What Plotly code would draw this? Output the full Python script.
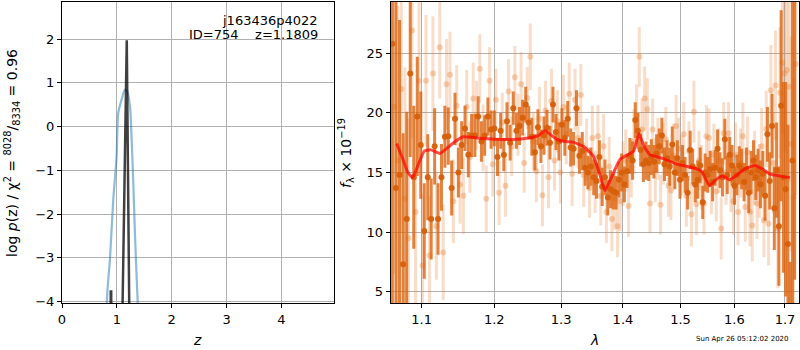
import numpy as np
import plotly.graph_objects as go

# ---------------- Left panel: redshift PDF ----------------
PZ_Z = [0.0, 0.880, 0.889, 0.897, 0.905, 1.080, 1.181, 1.240, 4.95]
PZ_LOG = [-6.0, -6.0, -3.77, -3.77, -6.0, -6.0, 1.97, -6.0, -6.0]

CHI_Z = [0.80, 0.826, 0.874, 0.935, 0.996, 1.026, 1.088, 1.148, 1.19, 1.24,
         1.27, 1.30, 1.33, 1.37, 1.40]
CHI_Y = [-4.8, -3.79, -3.04, -1.67, -0.68, 0.31, 0.62, 0.84, 0.80, 0.46,
         -0.30, -1.29, -2.43, -3.72, -4.5]

LEFT_XTICKS = [0, 1, 2, 3, 4]
LEFT_YTICKS = [-4, -3, -2, -1, 0, 1, 2]

# ---------------- Right panel: spectrum ----------------
LAM_DARK = np.round(1.062 + 0.0046 * np.arange(144), 4)
FLUX_DARK = [
    25.8, 13.7, 14.8, 7.3, 11.1, 23.3, 14.6, 19.7, 17.3, 10.1,
    14.6, 11.1, 17.2, 11.1, 14.6, 18.0, 18.05, 13.7, 19.5, 15.0,
    17.3, 18.7, 16.5, 18.1, 18.1, 19.7, 17.6, 18.1, 19.7, 18.6,
    18.7, 16.3, 18.5, 16.5, 19.3, 17.5, 20.4, 18.5, 18.9, 19.6,
    20.7, 19.2, 18.0, 16.7, 18.8, 17.2, 18.1, 18.75, 17.5, 20.7,
    18.4, 17.6, 19.0, 17.9, 19.5, 17.1, 17.0, 20.4, 16.4, 16.8,
    15.4, 15.0, 15.5, 14.6, 14.3, 16.3, 13.8, 14.6, 12.9, 13.6,
    13.4, 13.3, 14.4, 15.0, 14.0, 15.1, 16.4, 16.0, 19.4, 18.5,
    16.9, 15.7, 16.0, 15.8, 16.3, 15.9, 16.6, 17.2, 18.1, 15.7,
    16.2, 15.5, 17.35, 15.0, 16.2, 14.4, 15.8, 14.8, 13.3, 16.9,
    15.5, 14.0, 14.4, 15.6, 12.5, 15.0, 14.8, 15.3, 14.2, 15.4,
    17.0, 15.2, 14.6, 17.8, 14.8, 16.5, 15.6, 13.9, 14.8, 15.6,
    15.3, 14.2, 15.3, 13.3, 15.0, 16.0, 14.6, 15.2, 14.0, 14.9,
    13.05, 18.2, 14.3, 18.9, 12.0, 15.2, 10.5, 20.6, 14.6, 13.6,
    9.0, 2.5, 16.0, 31.0,
]
ERR_DARK = [
    22, 16, 13, 11, 9, 7, 6, 5, 4.5, 4,
    3.6, 3.4, 3.2, 3.0, 2.8, 2.6, 2.4, 2.3, 2.2, 2.1,
    2.0, 1.9, 1.9, 1.8, 1.8, 1.7, 1.7, 1.7, 1.6, 1.6,
    1.5, 1.6, 1.5, 1.4, 1.6, 1.5, 1.4, 1.5, 1.6, 1.5,
    1.5, 1.4, 1.6, 1.5, 1.5, 1.4, 1.6, 1.5, 1.4, 1.5,
    1.5, 1.6, 1.4, 1.5, 1.5, 1.6, 1.4, 1.5, 1.5, 1.6,
    1.5, 1.4, 1.6, 1.5, 1.5, 1.4, 1.6, 1.5, 1.5, 1.6,
    1.5, 1.4, 1.5, 1.6, 1.5, 1.4, 1.5, 1.6, 1.5, 1.5,
    1.4, 1.5, 1.6, 1.5, 1.5, 1.4, 1.6, 1.5, 1.5, 1.4,
    1.5, 1.6, 1.5, 1.4, 1.5, 1.6, 1.5, 1.5, 1.4, 1.6,
    1.5, 1.5, 1.6, 1.5, 1.4, 1.6, 1.5, 1.5, 1.6, 1.5,
    1.6, 1.5, 1.6, 1.7, 1.6, 1.5, 1.7, 1.6, 1.7, 1.6,
    1.7, 1.6, 1.8, 1.7, 1.8, 1.7, 1.9, 1.8, 2.0, 1.9,
    2.1, 2.3, 2.4, 2.7, 3.5, 4.0, 5.0, 8.0, 8.0, 9.0,
    10, 5, 25, 25,
]

LAM_LIGHT = np.round(1.0643 + 0.0046 * np.arange(144), 4)
FLUX_LIGHT = [
    20.5, 16.0, 22.0, 12.8, 9.5, 26.9, 11.7, 22.7, 7.2, 22.7,
    8.05, 23.3, 10.5, 25.5, 8.3, 22.4, 23.2, 12.6, 20.6, 14.0,
    13.05, 20.5, 16.3, 21.2, 19.8, 23.7, 17.9, 12.8, 22.7, 15.7,
    21.1, 13.3, 19.2, 13.9, 21.8, 17.2, 23.0, 19.0, 22.4, 15.8,
    21.25, 24.7, 17.6, 15.1, 19.5, 13.1, 20.2, 14.6, 21.0, 16.0,
    19.3, 15.0, 20.5, 18.2, 21.6, 14.9, 21.1, 17.9, 21.5, 14.8,
    16.9, 13.7, 17.9, 14.2, 18.05, 13.05, 17.2, 11.7, 15.5, 11.1,
    12.8, 10.5, 12.6, 14.9, 16.0, 12.2, 15.4, 17.6, 19.8, 24.7,
    18.6, 21.2, 20.3, 12.4, 18.6, 15.2, 17.0, 12.3, 16.6, 17.8,
    13.9, 13.5, 16.4, 18.9, 17.0, 15.6, 18.2, 13.05, 16.8, 11.5,
    20.1, 12.35, 16.0, 14.6, 12.4, 18.05, 17.9, 14.2, 16.5, 13.4,
    16.0, 10.3, 18.3, 15.0, 18.3, 14.4, 12.6, 16.5, 11.7, 15.8,
    18.05, 12.1, 16.7, 11.7, 10.55, 15.4, 12.4, 14.3, 17.2, 11.0,
    18.65, 10.7, 21.9, 15.8, 22.3, 10.3, 21.7, 24.2, 23.3, 23.6,
    22.2, 17.4, 12.9, 24.1,
]
ERR_LIGHT = [
    14, 13, 12, 11, 10, 9, 8, 7, 6, 5.5,
    5.0, 4.8, 4.5, 4.3, 4.0, 3.8, 3.6, 3.5, 3.4, 3.3,
    3.2, 3.1, 3.0, 3.0, 2.9, 2.9, 2.8, 2.8, 2.8, 2.7,
    2.6, 2.7, 2.5, 2.6, 2.7, 2.5, 2.6, 2.6, 2.7, 2.5,
    2.6, 2.8, 2.5, 2.6, 2.7, 2.6, 2.5, 2.6, 2.7, 2.5,
    2.6, 2.6, 2.7, 2.5, 2.6, 2.7, 2.6, 2.5, 2.6, 2.7,
    2.6, 2.5, 2.7, 2.6, 2.6, 2.5, 2.7, 2.6, 2.5, 2.7,
    2.6, 2.6, 2.5, 2.7, 2.6, 2.6, 2.5, 2.7, 2.6, 2.5,
    2.6, 2.7, 2.6, 2.5, 2.6, 2.7, 2.6, 2.5, 2.6, 2.7,
    2.6, 2.5, 2.7, 2.6, 2.6, 2.5, 2.7, 2.6, 2.5, 2.7,
    2.6, 2.6, 2.5, 2.7, 2.6, 2.6, 2.5, 2.7, 2.6, 2.5,
    2.7, 2.6, 2.6, 2.7, 2.6, 2.7, 2.8, 2.7, 2.8, 2.9,
    2.8, 2.9, 3.0, 2.9, 3.0, 3.1, 3.0, 3.1, 3.2, 3.1,
    3.2, 3.5, 3.8, 4.2, 4.6, 5.0, 5.5, 6.0, 6.5, 7.0,
    8.0, 9.0, 10.0, 11.0,
]

MODEL_LAM = [1.0675, 1.075, 1.082, 1.0882, 1.095, 1.1034, 1.112, 1.1242, 1.135,
             1.145, 1.156, 1.175, 1.2, 1.2278, 1.25, 1.265, 1.275, 1.2929, 1.305,
             1.319, 1.335, 1.351, 1.362, 1.370, 1.380, 1.395, 1.408, 1.418, 1.427,
             1.436, 1.446, 1.469, 1.493, 1.523, 1.538, 1.553, 1.565, 1.578, 1.591,
             1.605, 1.620, 1.640, 1.655, 1.670, 1.690, 1.710]
MODEL_FLUX = [17.44, 16.2, 15.0, 14.58, 15.6, 16.8, 16.9, 16.6, 17.1,
              17.6, 18.0, 17.9, 17.8, 17.78, 17.9, 18.1, 18.5, 17.8, 17.6,
              17.55, 17.2, 16.4, 14.8, 13.47, 14.5, 16.1, 16.5, 16.8, 18.25,
              17.2, 16.5, 16.17, 15.7, 15.4, 15.1, 13.9, 14.4, 14.7, 14.4,
              14.8, 15.3, 15.6, 15.3, 14.86, 14.7, 14.58]

RIGHT_XTICKS = [1.1, 1.2, 1.3, 1.4, 1.5, 1.6, 1.7]
RIGHT_YTICKS = [5, 10, 15, 20, 25]

FONT = "DejaVu Sans"
W, H = 800, 350


def px_x(p):
    return p / W


def px_y(p):
    return 1 - p / H


fig = go.Figure()

# Left panel traces
fig.add_trace(go.Scatter(x=CHI_Z, y=CHI_Y, mode="lines",
                         line=dict(color="rgba(31,119,180,0.5)", width=2.2, shape="spline", smoothing=0.8),
                         xaxis="x", yaxis="y", showlegend=False, hoverinfo="skip"))
fig.add_trace(go.Scatter(x=PZ_Z, y=PZ_LOG, mode="lines",
                         line=dict(color="rgba(0,0,0,0.75)", width=2.5),
                         xaxis="x", yaxis="y", showlegend=False, hoverinfo="skip"))

# Right panel traces
fig.add_trace(go.Scatter(x=LAM_LIGHT, y=FLUX_LIGHT, mode="markers",
                         marker=dict(color="rgba(230,120,40,0.33)", size=6, line=dict(width=0)),
                         error_y=dict(type="data", array=ERR_LIGHT, visible=True, width=0,
                                      thickness=3, color="rgba(230,120,40,0.25)"),
                         xaxis="x2", yaxis="y2", showlegend=False, hoverinfo="skip"))
fig.add_trace(go.Scatter(x=LAM_DARK, y=FLUX_DARK, mode="markers",
                         marker=dict(color="rgba(215,95,10,0.95)", size=6, line=dict(width=0)),
                         error_y=dict(type="data", array=ERR_DARK, visible=True, width=0,
                                      thickness=3, color="rgba(220,100,15,0.8)"),
                         xaxis="x2", yaxis="y2", showlegend=False, hoverinfo="skip"))
fig.add_trace(go.Scatter(x=MODEL_LAM, y=MODEL_FLUX, mode="lines",
                         line=dict(color="rgba(255,0,0,0.7)", width=3, shape="spline", smoothing=0.4),
                         xaxis="x2", yaxis="y2", showlegend=False, hoverinfo="skip"))

axis_common = dict(showline=True, linecolor="black", linewidth=1, mirror=True,
                   ticks="outside", ticklen=4, tickcolor="black", automargin=False,
                   showgrid=True, gridcolor="#b0b0b0", gridwidth=1, zeroline=False,
                   tickfont=dict(family=FONT, size=13, color="black"))

fig.update_layout(
    width=W, height=H, margin=dict(l=0, r=0, t=0, b=0, autoexpand=False),
    paper_bgcolor="white", plot_bgcolor="white",
    font=dict(family=FONT, size=13, color="black"),
    xaxis=dict(domain=[px_x(62), px_x(334)], range=[0, 4.96], tickvals=LEFT_XTICKS,
               anchor="y", **axis_common),
    yaxis=dict(domain=[px_y(303), px_y(2)], range=[-4.03, 2.845], tickvals=LEFT_YTICKS,
               anchor="x", **axis_common),
    xaxis2=dict(domain=[px_x(390.7), px_x(799.3)], type="log",
                range=[np.log10(1.0599), np.log10(1.7294)],
                tickvals=RIGHT_XTICKS, ticktext=[f"{v:.1f}" for v in RIGHT_XTICKS],
                anchor="y2", **axis_common),
    yaxis2=dict(domain=[px_y(303), px_y(2)], range=[4.06, 29.3], tickvals=RIGHT_YTICKS,
                anchor="x2", **axis_common),
)

ann = [
    dict(text="j163436p4022", x=px_x(320), y=px_y(20), xanchor="right", yanchor="middle",
         font=dict(size=13)),
    dict(text="ID=754    z=1.1809", x=px_x(320), y=px_y(35), xanchor="right", yanchor="middle",
         font=dict(size=13)),
    dict(text="<i>z</i>", x=px_x(197), y=px_y(340), xanchor="center", yanchor="middle",
         font=dict(size=14)),
    dict(text="<i>λ</i>", x=px_x(594), y=px_y(340), xanchor="center", yanchor="middle",
         font=dict(size=14)),
    dict(text="log <i>p</i>(z) / χ<sup>2</sup> = <sup>8028</sup>/<sub>8334</sub> = 0.96",
         x=px_x(12), y=px_y(153), textangle=-90, xanchor="center", yanchor="middle",
         font=dict(size=14)),
    dict(text="<i>f</i><sub>λ</sub> × 10<sup>−19</sup>",
         x=px_x(346), y=px_y(153), textangle=-90, xanchor="center", yanchor="middle",
         font=dict(size=14)),
    dict(text="Sun Apr 26 05:12:02 2020", x=px_x(742), y=px_y(339), xanchor="center",
         yanchor="middle", font=dict(size=7)),
]
for a in ann:
    a.update(xref="paper", yref="paper", showarrow=False)
fig.update_layout(annotations=ann)

fig.write_html(
    "out.html",
    config={"displayModeBar": False, "staticPlot": True},
    post_script="document.body.style.margin='0';document.body.style.overflow='hidden';",
)
